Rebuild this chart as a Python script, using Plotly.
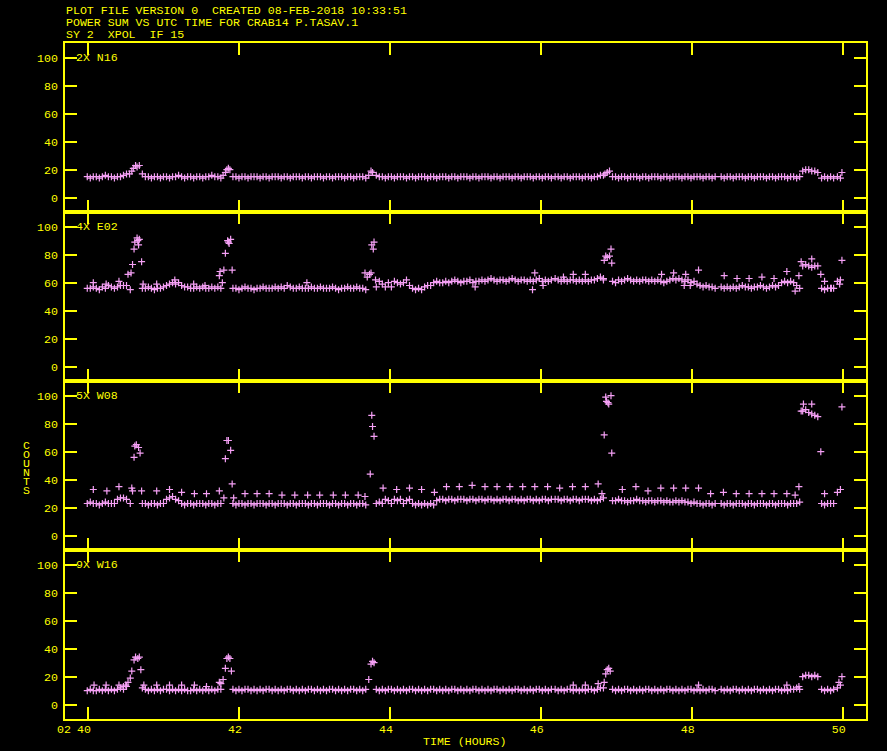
import plotly.graph_objects as go
from plotly.subplots import make_subplots

# ---------------- data ----------------
DT = 0.04  # sampling interval (hours)
SCAN_STARTS = [39.99, 40.31, 40.72, 41.92, 43.82, 46.19, 46.95, 48.39, 49.47, 49.72, 49.93]

PANEL_LABELS = ["2X N16", "4X E02", "5X W08", "9X W16"]

N16_SCANS = [
    [15, 14, 15, 15, 14, 15, 16, 15],
    [15, 14, 15, 15, 16, 17],
    [17, 15, 15, 14, 15, 15, 14, 15, 15, 14, 15, 15, 16, 15, 14, 15, 15, 14, 15, 15, 14, 15, 15, 16, 15, 15, 14],
    [15, 15, 14, 15, 15, 14, 15, 15, 15, 14, 15, 15, 14, 15, 15, 15, 14, 15, 15, 14, 15, 15, 15, 14, 15, 15, 14, 15, 15, 15, 14, 15, 15, 14, 15, 15, 15, 14, 15, 15, 14, 15, 15, 15, 14],
    [16, 15, 15, 14, 15, 15, 14, 15, 15, 15, 14, 15, 15, 14, 15, 15, 15, 14, 15, 15, 14, 15, 15, 15, 14, 15, 15, 14, 15, 15, 15, 14, 15, 15, 14, 15, 15, 15, 14, 15, 15, 14, 15, 15, 15, 14, 15, 15, 14, 15, 15, 15, 14, 15, 15, 14, 15, 15, 14],
    [15, 15, 14, 15, 15, 14, 15, 15, 15, 14, 15, 15, 14, 15, 15, 16, 16],
    [15, 15, 14, 15, 15, 14, 15, 15, 15, 14, 15, 15, 14, 15, 15, 15, 14, 15, 15, 14, 15, 15, 15, 14, 15, 15, 14, 15, 15, 15, 14, 15, 15, 14, 15],
    [15, 14, 15, 15, 14, 15, 15, 15, 14, 15, 15, 14, 15, 15, 15, 14, 15, 15, 14, 15, 15, 15, 14, 15, 15, 14, 15],
    [19, 20, 20, 19, 19, 18],
    [14, 15, 14, 15, 14],
    [15, 14],
]
N16_EXTRA_T = [40.55, 40.58, 40.60, 40.63, 40.65, 40.68, 41.79, 41.82, 41.84, 41.86, 41.88,
               43.72, 43.75, 43.77, 46.85, 46.88, 46.91, 49.99]
N16_EXTRA_V = [17, 19, 21, 23, 22, 23, 16, 18, 20, 21, 20,
               16, 19, 18, 17, 18, 19, 18]

E02_SCANS = [
    [56, 56, 57, 56, 55, 57, 56, 58],
    [57, 56, 57, 58, 58, 58],
    [56, 56, 57, 56, 55, 56, 56, 57, 58, 59, 60, 59, 60, 58, 57, 57, 56, 56, 57, 56, 57, 56, 56, 57, 56, 57, 56],
    [56, 56, 55, 56, 57, 56, 56, 55, 56, 56, 57, 56, 56, 56, 57, 56, 57, 56, 58, 57, 56, 56, 57, 56, 56, 56, 57, 56, 56, 57, 56, 56, 56, 57, 56, 55, 56, 56, 57, 56, 56, 57, 56, 56, 55],
    [57, 61, 59, 57, 60, 57, 61, 60, 59, 60, 62, 58, 56, 55, 56, 55, 57, 58, 58,
     60, 61, 60, 60, 61, 60, 61, 62, 61, 60, 61, 61, 62, 60, 61, 61,
     62, 61, 62, 63, 62, 61, 62, 62, 61, 62, 63, 62, 61, 62, 62, 61, 62, 61, 62, 63, 61, 62, 61, 62],
    [63, 62, 61, 62, 61, 62, 62, 61, 62, 61, 62, 61, 62, 62, 63, 64, 62],
    [61, 60, 62, 61, 62, 63, 62, 61, 62, 61, 62, 62, 61, 62, 61, 62, 61, 60, 61, 62, 63, 62, 63, 62, 61, 62, 60, 61, 59, 58, 57, 58, 57, 57, 56],
    [57, 56, 57, 56, 57, 56, 57, 58, 57, 57, 56, 57, 57, 58, 57, 56, 57, 58, 57, 58, 60, 61, 60, 61, 60, 58, 56],
    [72, 73, 72, 71, 72, 72],
    [56, 55, 56, 56, 56],
    [61, 62],
]
E02_EXTRA_T = [40.53, 40.56, 40.57, 40.59, 40.61, 40.62, 40.65, 40.66, 40.67, 40.68, 40.71,
               41.74, 41.75, 41.78, 41.80, 41.82, 41.85, 41.86, 41.87, 41.89, 41.91,
               43.67, 43.70, 43.73, 43.75, 43.76, 43.78, 43.79, 43.81,
               46.83, 46.84, 46.86, 46.88, 46.91, 46.93, 46.94,
               40.07, 40.24, 40.41, 40.73, 40.91, 41.15, 41.40, 41.55, 42.90, 45.13, 45.89, 45.92,
               46.03, 46.43, 46.59, 46.30, 47.60, 47.76, 47.90, 47.92, 47.98, 48.09, 48.43, 48.60,
               48.76, 48.93, 49.09, 49.26, 49.37, 49.42, 49.45, 49.59, 49.71, 49.76, 49.85, 49.96, 49.99]
E02_EXTRA_V = [66, 55, 67, 73, 84, 89, 92, 90, 87, 91, 75,
               65, 68, 60, 69, 81, 90, 89, 88, 91, 69,
               67, 64, 66, 67, 87, 84, 89, 62,
               63, 76, 79, 78, 79, 84, 74,
               60, 59, 61, 59, 59, 62, 59, 58, 60, 57, 55, 67,
               58, 66, 66, 64, 66, 67, 58, 66, 58, 69, 65, 63,
               63, 64, 63, 68, 54, 65, 75, 77, 66, 61, 56, 59, 76]

W08_SCANS = [
    [23, 24, 23, 23, 22, 23, 24, 23],
    [23, 23, 26, 27, 27, 26],
    [23, 23, 22, 23, 23, 22, 23, 23, 26, 27, 28, 26, 25, 23, 22, 23, 23, 22, 23, 23, 23, 22, 23, 23, 22, 23, 23],
    [23, 22, 23, 23, 22, 23, 23, 22, 23, 23, 23, 22, 23, 23, 22, 23, 23, 23, 22, 23, 23, 22, 23, 23, 23, 22, 23, 23, 22, 23, 23, 23, 22, 23, 23, 22, 23, 23, 22, 23, 23, 22, 23, 23, 22],
    [23, 24, 23, 26, 25, 23, 26, 25, 26, 23, 25, 26, 23, 22, 23, 22, 23, 22, 23, 22,
     25, 26, 26, 25, 26, 26, 25, 26, 26, 26, 25, 26, 26, 25, 26,
     26, 25, 26, 26, 25, 26, 25, 26, 26, 25, 26, 26, 25, 26, 25, 26, 26, 25, 26, 25, 26, 26, 25, 26],
    [26, 26, 25, 26, 26, 25, 26, 26, 25, 26, 26, 26, 25, 26, 25, 26, 27],
    [25, 25, 26, 25, 25, 24, 25, 25, 26, 25, 25, 24, 25, 25, 24, 25, 25, 24, 25, 24, 24, 25, 24, 25, 24, 24, 23, 24, 23, 23, 22, 23, 23, 22, 23],
    [23, 22, 23, 23, 22, 23, 23, 23, 22, 23, 23, 22, 23, 23, 23, 22, 23, 23, 22, 23, 23, 23, 22, 23, 23, 23, 24],
    [89, 90, 88, 87, 86, 85],
    [23, 22, 23, 23, 23],
    [31, 33],
]
W08_EXTRA_T = [40.56, 40.61, 40.62, 40.64, 40.67, 40.69,
               41.80, 41.82, 41.84, 41.86, 41.89, 41.91,
               43.74, 43.76, 43.77, 43.79,
               46.81, 46.84, 46.86, 46.87, 46.89, 46.90, 46.93, 46.94,
               49.45, 49.48, 49.59, 49.71, 49.99,
               40.07, 40.25, 40.41, 40.58, 40.59, 40.71, 40.91, 41.08, 41.24, 41.41, 41.57, 41.74,
               41.93, 42.08, 42.24, 42.40, 42.57, 42.74, 42.91, 43.07, 43.25, 43.41, 43.58, 43.67,
               43.91, 44.09, 44.26, 44.42, 44.59, 44.75, 44.92, 45.09, 45.26, 45.42, 45.59, 45.76,
               45.92, 46.09, 46.25, 46.42, 46.59, 46.76, 47.08, 47.26, 47.42, 47.59, 47.76, 47.92,
               48.09, 48.25, 48.42, 48.59, 48.76, 48.93, 49.09, 49.26, 49.37, 49.42, 49.76]
W08_EXTRA_V = [23, 56, 64, 65, 63, 59,
               27, 55, 68, 68, 61, 37,
               44, 86, 78, 71,
               30, 72, 99, 96, 95, 94, 100, 59,
               89, 94, 94, 60, 92,
               33, 32, 35, 34, 32, 32, 32, 33, 31, 30, 30, 32,
               27, 30, 30, 30, 29, 29, 29, 29, 29, 29, 29, 28,
               34, 33, 34, 33, 31, 35, 35, 36, 35, 35, 35, 35,
               35, 35, 34, 35, 35, 37, 33, 35, 32, 34, 34, 34,
               34, 30, 31, 30, 30, 30, 30, 30, 29, 35, 30]

W16_SCANS = [
    [10, 11, 10, 10, 11, 10, 11, 10],
    [11, 10, 11, 12, 11, 13],
    [12, 11, 10, 11, 10, 11, 10, 11, 11, 10, 11, 10, 11, 10, 11, 10, 10, 11, 10, 11, 10, 11, 10, 11, 10, 11, 11],
    [11, 10, 11, 10, 11, 11, 10, 11, 10, 11, 10, 11, 11, 10, 11, 10, 11, 10, 11, 11, 10, 11, 10, 11, 10, 11, 11, 10, 11, 10, 11, 10, 11, 11, 10, 11, 10, 11, 10, 11, 11, 10, 11, 10, 11],
    [11, 10, 11, 10, 11, 11, 10, 11, 10, 11, 10, 11, 11, 10, 11, 10, 11, 10, 11, 11, 10, 11, 10, 11, 10, 11, 11, 10, 11, 10, 11, 10, 11, 11, 10, 11, 10, 11, 10, 11, 11, 10, 11, 10, 11, 10, 11, 11, 10, 11, 10, 11, 10, 11, 11, 10, 11, 10, 11],
    [11, 10, 11, 10, 11, 11, 10, 11, 10, 11, 10, 11, 11, 10, 11, 12, 12],
    [11, 10, 11, 10, 11, 11, 10, 11, 10, 11, 10, 11, 11, 10, 11, 10, 11, 10, 11, 11, 10, 11, 10, 11, 10, 11, 11, 10, 11, 10, 11, 10, 11, 11, 10],
    [11, 10, 11, 10, 11, 11, 10, 11, 10, 11, 10, 11, 11, 10, 11, 10, 11, 10, 11, 11, 10, 11, 10, 11, 11, 12, 11],
    [20, 21, 21, 20, 21, 20],
    [11, 10, 11, 10, 11],
    [12, 14],
]
W16_EXTRA_T = [40.50, 40.53, 40.56, 40.58, 40.61, 40.63, 40.66, 40.68, 40.70,
               41.76, 41.79, 41.82, 41.84, 41.86, 41.88, 41.90,
               43.72, 43.75, 43.77, 43.79,
               46.84, 46.86, 46.88, 46.90, 46.92,
               40.08, 40.24, 40.41, 40.47, 40.74, 40.91, 41.08, 41.24, 41.41, 41.57, 41.74,
               46.43, 46.59, 46.76, 48.09, 49.26, 49.42, 49.95, 49.99]
W16_EXTRA_V = [14, 16, 19, 24, 32, 34, 33, 34, 25,
               15, 18, 26, 33, 34, 33, 24,
               18, 29, 31, 30,
               16, 22, 25, 26, 24,
               14, 14, 14, 13, 14, 14, 14, 14, 14, 13, 16,
               14, 14, 15, 14, 14, 13, 16, 20]

X_TICKS = [40, 42, 44, 46, 48, 50]
X_TICK_TEXT = ["40", "42", "44", "46", "48", "50"]
Y_TICKS = [0, 20, 40, 60, 80, 100]
TITLE_LINES = ["PLOT FILE VERSION 0  CREATED 08-FEB-2018 10:33:51",
               "POWER SUM VS UTC TIME FOR CRAB14 P.TASAV.1",
               "SY 2  XPOL  IF 15"]
X_TITLE = "TIME (HOURS)"
Y_TITLE = "COUNTS"
DAY_LABEL = "02"

PANELS = [
    (N16_SCANS, N16_EXTRA_T, N16_EXTRA_V),
    (E02_SCANS, E02_EXTRA_T, E02_EXTRA_V),
    (W08_SCANS, W08_EXTRA_T, W08_EXTRA_V),
    (W16_SCANS, W16_EXTRA_T, W16_EXTRA_V),
]

# ---------------- style ----------------
W, H = 887, 751
L, R, T, B = 65, 21, 43, 32
PW, PH = W - L - R, H - T - B
YELLOW = "#ffff00"
PINK = "#f5a0f5"
FONT = "Liberation Mono"
FS = 11.6


def series(scans, extra_t, extra_v):
    t, v = [], []
    for start, vals in zip(SCAN_STARTS, scans):
        for i, val in enumerate(vals):
            t.append(round(start + i * DT, 4))
            v.append(val)
    return t + list(extra_t), v + list(extra_v)


def pxx(px):
    return (px - L) / PW


def pxy(py):
    return (H - B - py) / PH


fig = make_subplots(rows=4, cols=1, shared_xaxes=True, vertical_spacing=0)

for k, (scans, et, ev) in enumerate(PANELS):
    t, v = series(scans, et, ev)
    fig.add_trace(go.Scatter(
        x=t, y=v, mode="markers",
        marker=dict(symbol="cross-thin", size=5, color=PINK,
                    line=dict(color=PINK, width=1.2)),
        showlegend=False, hoverinfo="skip"), row=k + 1, col=1)

for k in range(4):
    fig.update_xaxes(
        range=[39.695, 50.309], tickvals=X_TICKS, ticktext=X_TICK_TEXT,
        ticks="inside", ticklen=12, tickwidth=1.5, tickcolor=YELLOW,
        showline=True, linecolor=YELLOW, linewidth=1.5, mirror="ticks",
        showgrid=False, zeroline=False,
        tickfont=dict(family=FONT, size=FS, color=YELLOW),
        ticklabelshift=-4, ticklabelstandoff=-2,
        row=k + 1, col=1)
    fig.update_yaxes(
        range=[-10.2, 110.5], tickvals=Y_TICKS,
        ticks="inside", ticklen=12, tickwidth=1.5, tickcolor=YELLOW,
        showline=True, linecolor=YELLOW, linewidth=1.5, mirror="ticks",
        showgrid=False, zeroline=False,
        tickfont=dict(family=FONT, size=FS, color=YELLOW),
        ticklabelstandoff=3,
        domain=[1 - (k + 1) / 4, 1 - k / 4],
        row=k + 1, col=1)

annotations = []
for i, line in enumerate(TITLE_LINES):
    annotations.append(dict(text=line, xref="paper", yref="paper",
                            x=pxx(64), y=pxy(10.3 + 12.2 * i), xanchor="left", yanchor="middle",
                            showarrow=False, font=dict(family=FONT, size=FS, color=YELLOW)))
for k, lab in enumerate(PANEL_LABELS):
    annotations.append(dict(text=lab, xref="paper", yref="y" + ("" if k == 0 else str(k + 1)),
                            x=pxx(74), y=100, xanchor="left", yanchor="middle",
                            showarrow=False, font=dict(family=FONT, size=FS, color=YELLOW)))
for i, ch in enumerate(Y_TITLE):
    annotations.append(dict(text=ch, xref="paper", yref="paper", height=8,
                            x=pxx(26), y=pxy(444.5 + 9.05 * i), xanchor="center", yanchor="middle",
                            showarrow=False, font=dict(family=FONT, size=FS, color=YELLOW)))
annotations.append(dict(text=X_TITLE, xref="paper", yref="paper",
                        x=pxx(465), y=pxy(741.5), xanchor="center", yanchor="middle",
                        showarrow=False, font=dict(family=FONT, size=FS, color=YELLOW)))
annotations.append(dict(text=DAY_LABEL, xref="paper", yref="paper",
                        x=pxx(63.5), y=pxy(729.5), xanchor="center", yanchor="middle",
                        showarrow=False, font=dict(family=FONT, size=FS, color=YELLOW)))

shapes = []
for k in range(1, 4):
    shapes.append(dict(type="line", xref="paper", yref="paper", x0=0, x1=1,
                       y0=1 - k / 4, y1=1 - k / 4, line=dict(color=YELLOW, width=3)))

fig.update_layout(
    width=W, height=H,
    margin=dict(l=L, r=R, t=T, b=B),
    paper_bgcolor="black", plot_bgcolor="black",
    annotations=annotations, shapes=shapes,
    showlegend=False,
)

fig.write_html("out.html", config={"displayModeBar": False},
               post_script="document.body.style.margin='0';document.body.style.background='black';")
